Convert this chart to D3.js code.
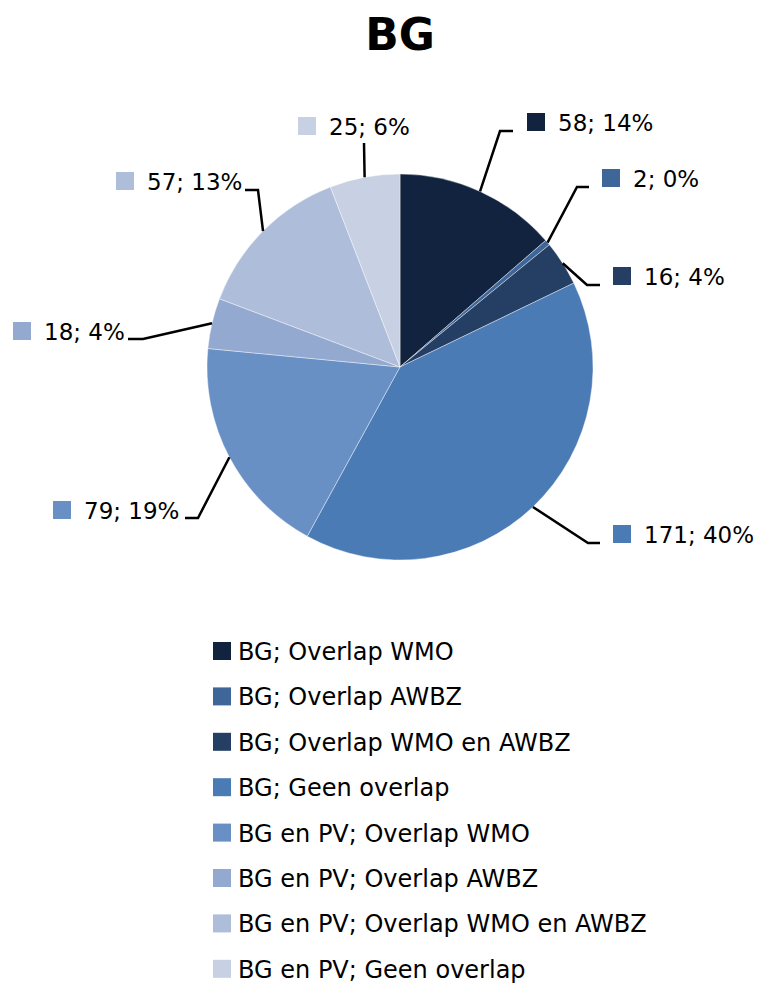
<!DOCTYPE html>
<html>
<head>
<meta charset="utf-8">
<script src="https://cdn.jsdelivr.net/npm/d3@7"></script>
<style>
  body { margin: 0; background: #fff; }
  text { font-family: "DejaVu Sans", sans-serif; fill: #000; }
</style>
</head>
<body>
<div id="pie_chart"></div>
<script>
// data
var categories = ["BG; Overlap WMO", "BG; Overlap AWBZ", "BG; Overlap WMO en AWBZ", "BG; Geen overlap",
    "BG en PV; Overlap WMO", "BG en PV; Overlap AWBZ", "BG en PV; Overlap WMO en AWBZ", "BG en PV; Geen overlap"];
var values = [58, 2, 16, 171, 79, 18, 57, 25];
var colors = ["#12233F", "#3F6699", "#253E63", "#4A7BB5", "#6990C4", "#93A9D0", "#ADBDDA", "#C8D1E4"];

// where each data label sits (square x, text baseline) and its leader elbow / end
var labelPos = [
    {sx: 527, by: 131, elbow: [500, 131], end: [513, 131]},
    {sx: 602, by: 187, elbow: [577, 187], end: [589, 187]},
    {sx: 613, by: 285, elbow: [587, 285], end: [600, 285]},
    {sx: 613, by: 543, elbow: [588, 543], end: [600, 543]},
    {sx: 53,  by: 519, elbow: [198, 518], end: [185, 518]},
    {sx: 13,  by: 340, elbow: [143, 339], end: [128, 339]},
    {sx: 116, by: 190, elbow: [258, 190], end: [245, 190]},
    {sx: 298, by: 135, elbow: [364, 143], end: [364, 143]}
];

var width = 758, height = 986;
var cx = 400, cy = 367, radius = 193;

var svg = d3.select("#pie_chart")
    .append("svg")
    .attr("width", width)
    .attr("height", height);

// title
svg.append("text")
    .attr("x", 400)
    .attr("y", 50)
    .attr("text-anchor", "middle")
    .style("font-size", "44px")
    .style("font-weight", "bold")
    .text("BG");

var total = d3.sum(values);
var pie = d3.pie().sort(null).value(function (d) { return d; });
var arcs = pie(values);

var arc = d3.arc().innerRadius(0).outerRadius(radius);
var edge = d3.arc().innerRadius(radius).outerRadius(radius);

var g = svg.append("g")
    .attr("transform", "translate(" + cx + "," + cy + ")");

g.selectAll("path")
    .data(arcs)
    .enter()
    .append("path")
    .attr("d", arc)
    .attr("fill", function (d, i) { return colors[i]; })
    .attr("stroke", "rgba(255,255,255,0.5)")
    .attr("stroke-width", 0.8);

// leader lines
var line = d3.line();
svg.append("g")
    .selectAll("path")
    .data(arcs)
    .enter()
    .append("path")
    .attr("d", function (d, i) {
        var c = edge.centroid(d);
        var p = labelPos[i];
        return line([[cx + c[0], cy + c[1]], p.elbow, p.end]);
    })
    .attr("fill", "none")
    .attr("stroke", "#000")
    .attr("stroke-width", 2.5);

// data labels
var lab = svg.append("g")
    .selectAll("g")
    .data(arcs)
    .enter()
    .append("g");

lab.append("rect")
    .attr("x", function (d, i) { return labelPos[i].sx; })
    .attr("y", function (d, i) { return labelPos[i].by - 18; })
    .attr("width", 18)
    .attr("height", 18)
    .attr("fill", function (d, i) { return colors[i]; });

lab.append("text")
    .attr("x", function (d, i) { return labelPos[i].sx + 31; })
    .attr("y", function (d, i) { return labelPos[i].by; })
    .style("font-size", "23px")
    .text(function (d) { return d.value + "; " + Math.round(d.value / total * 100) + "%"; });

// legend
var legend = svg.append("g")
    .selectAll("g")
    .data(categories)
    .enter()
    .append("g")
    .attr("transform", function (d, i) { return "translate(213," + (642 + 45.4 * i) + ")"; });

legend.append("rect")
    .attr("width", 18)
    .attr("height", 18)
    .attr("fill", function (d, i) { return colors[i]; });

legend.append("text")
    .attr("x", 25)
    .attr("y", 18)
    .style("font-size", "24px")
    .text(function (d) { return d; });
</script>
</body>
</html>
